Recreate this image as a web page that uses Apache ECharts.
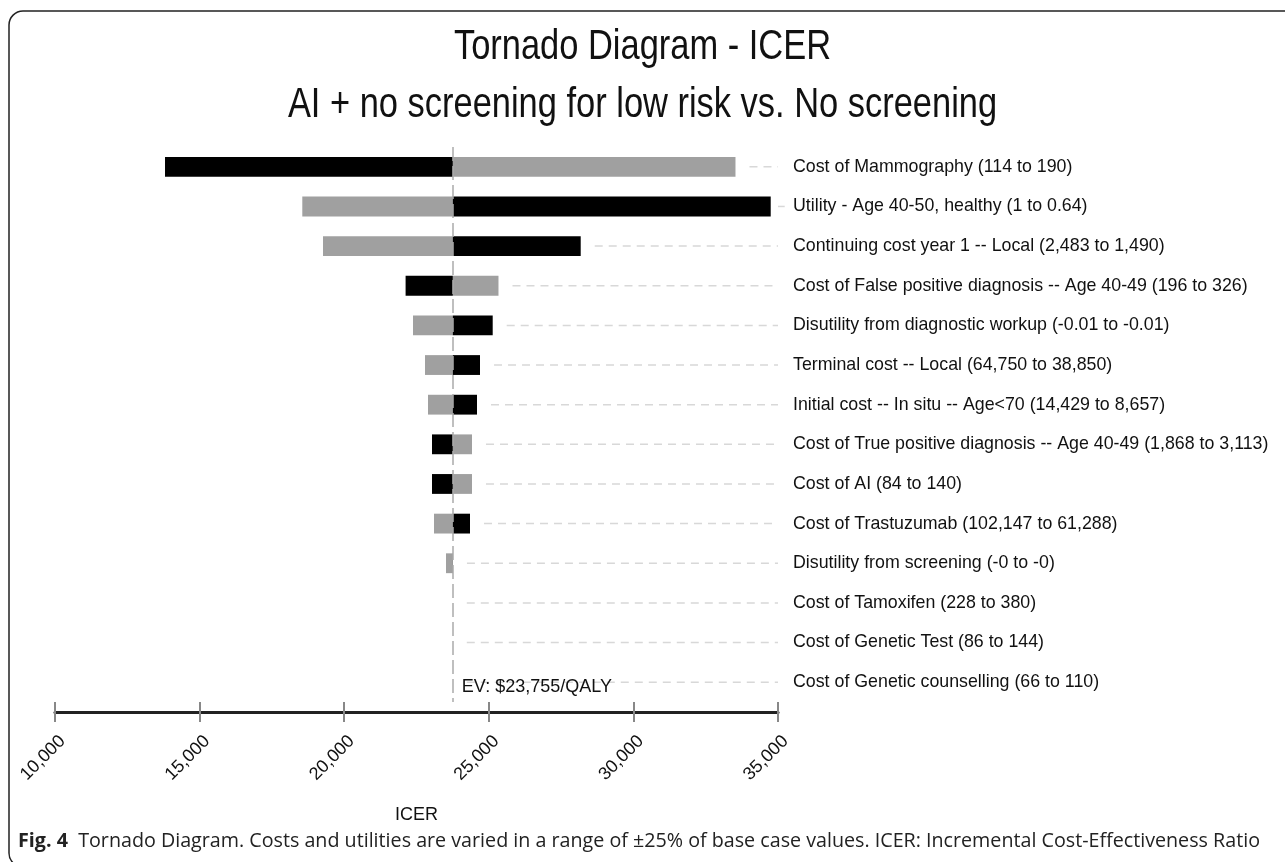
<!DOCTYPE html>
<html>
<head>
<meta charset="utf-8">
<title>Tornado Diagram - ICER</title>
<script src="https://cdn.jsdelivr.net/npm/echarts@6/dist/echarts.min.js"></script>
<style>
  html, body { margin: 0; padding: 0; background: #fff; }
  #chart { width: 1285px; height: 862px; }
</style>
</head>
<body>
<div id="chart"></div>
<script>
// rows, top to bottom
var categories = [
  'Cost of Mammography (114 to 190)',
  'Utility - Age 40-50, healthy (1 to 0.64)',
  'Continuing cost year 1 -- Local (2,483 to 1,490)',
  'Cost of False positive diagnosis -- Age 40-49 (196 to 326)',
  'Disutility from diagnostic workup (-0.01 to -0.01)',
  'Terminal cost -- Local (64,750 to 38,850)',
  'Initial cost -- In situ -- Age<70 (14,429 to 8,657)',
  'Cost of True positive diagnosis -- Age 40-49 (1,868 to 3,113)',
  'Cost of AI (84 to 140)',
  'Cost of Trastuzumab (102,147 to 61,288)',
  'Disutility from screening (-0 to -0)',
  'Cost of Tamoxifen (228 to 380)',
  'Cost of Genetic Test (86 to 144)',
  'Cost of Genetic counselling (66 to 110)'
];

var baseIcer = 23755;

// ICER at the low end of each input range (black bars)
var lowIcer = [13804, 34748, 28178, 22123, 25135, 24696, 24592, 23036, 23036, 24350, 23760, 23755, 23755, 23755];

// ICER at the high end of each input range (grey bars)
var highIcer = [33530, 18551, 19267, 25335, 22379, 22794, 22898, 24419, 24419, 23105, 23520, 23755, 23755, 23755];

var lowData = lowIcer.map(function (v, i) { return [i, baseIcer, v]; });
var highData = highIcer.map(function (v, i) { return [i, baseIcer, v]; });
var guideData = categories.map(function (c, i) {
  return [i, Math.max(baseIcer, lowIcer[i], highIcer[i])];
});

function barRenderer(color) {
  return function (params, api) {
    var row = api.value(0);
    var p0 = api.coord([api.value(1), row]);
    var p1 = api.coord([api.value(2), row]);
    var h = api.size([0, 1])[1] * 0.5;
    return {
      type: 'rect',
      shape: {
        x: Math.min(p0[0], p1[0]),
        y: p0[1] - h / 2,
        width: Math.abs(p1[0] - p0[0]),
        height: h
      },
      style: { fill: color }
    };
  };
}

function fmt(v) {
  return String(v).replace(/\B(?=(\d{3})+(?!\d))/g, ',');
}

var chartDom = document.getElementById('chart');
var myChart = echarts.init(chartDom);
var option;

option = {
  animation: false,
  grid: {
    left: 55,
    right: 507,
    top: 147,
    bottom: 160
  },
  xAxis: [
    {
      type: 'value',
      min: 10000,
      max: 35000,
      interval: 5000,
      offset: 10,
      name: 'ICER',
      nameLocation: 'middle',
      nameGap: 94,
      nameTextStyle: { fontFamily: 'Liberation Sans', fontSize: 18, color: '#111' },
      splitLine: { show: false },
      axisLine: { show: true, lineStyle: { color: '#222', width: 3 } },
      axisTick: { show: true, length: 10, lineStyle: { color: '#888', width: 2 } },
      axisLabel: {
        rotate: 45,
        margin: 58,
        align: 'center',
        verticalAlign: 'bottom',
        fontFamily: 'Liberation Sans',
        fontSize: 18,
        color: '#111',
        padding: [0, 0, 8, 0],
        formatter: function (v) { return fmt(v); }
      }
    },
    {
      type: 'value',
      min: 10000,
      max: 35000,
      interval: 5000,
      offset: 10,
      position: 'bottom',
      splitLine: { show: false },
      axisLine: { show: false },
      axisTick: { show: true, inside: true, length: 10, lineStyle: { color: '#888', width: 2 } },
      axisLabel: { show: false }
    }
  ],
  yAxis: {
    type: 'category',
    data: categories,
    inverse: true,
    position: 'right',
    axisLine: { show: false },
    axisTick: { show: false },
    splitLine: { show: false },
    axisLabel: {
      margin: 15,
      fontFamily: 'Liberation Sans',
      fontSize: 17.8,
      color: '#111'
    }
  },
  graphic: [
    {
      type: 'rect',
      shape: { x: 9, y: 11, width: 1300, height: 856, r: 14 },
      style: { fill: 'none', stroke: '#222', lineWidth: 1.5 },
      silent: true
    },
    {
      type: 'text',
      x: 642.5,
      y: 26,
      scaleX: 0.82,
      silent: true,
      style: {
        text: 'Tornado Diagram - ICER',
        align: 'center',
        verticalAlign: 'top',
        fontFamily: 'Liberation Sans',
        fontSize: 42,
        fill: '#111'
      }
    },
    {
      type: 'text',
      x: 642.5,
      y: 84,
      scaleX: 0.82,
      silent: true,
      style: {
        text: 'AI + no screening for low risk vs. No screening',
        align: 'center',
        verticalAlign: 'top',
        fontFamily: 'Liberation Sans',
        fontSize: 42,
        fill: '#111'
      }
    },
    {
      type: 'text',
      left: 18,
      top: 831,
      silent: true,
      style: {
        text: '{b|Fig. 4}  Tornado Diagram. Costs and utilities are varied in a range of \u00b125% of base case values. ICER: Incremental Cost-Effectiveness Ratio',
        fontFamily: 'Open Sans',
        fontSize: 19.7,
        fill: '#222',
        rich: {
          b: { fontFamily: 'Open Sans', fontSize: 19.7, fontWeight: 'bold', fill: '#222' }
        }
      }
    }
  ],
  series: [
    {
      name: 'Guide',
      type: 'custom',
      silent: true,
      encode: { x: 1, y: 0 },
      data: guideData,
      renderItem: function (params, api) {
        var row = api.value(0);
        var p = api.coord([api.value(1), row]);
        var right = params.coordSys.x + params.coordSys.width;
        return {
          type: 'line',
          shape: { x1: p[0] + 14, y1: p[1], x2: right, y2: p[1] },
          style: { stroke: '#d8d8d8', lineWidth: 1.5, lineDash: [8, 6] }
        };
      }
    },
    {
      name: 'High',
      type: 'custom',
      silent: true,
      encode: { x: [1, 2], y: 0 },
      data: highData,
      renderItem: barRenderer('#a0a0a0')
    },
    {
      name: 'Low',
      type: 'custom',
      silent: true,
      encode: { x: [1, 2], y: 0 },
      data: lowData,
      renderItem: barRenderer('#000'),
      markLine: {
        silent: true,
        symbol: ['none', 'none'],
        label: { show: false },
        lineStyle: { color: '#aaa', width: 1.5, type: [14, 5] },
        data: [{ xAxis: baseIcer }]
      }
    },
    {
      name: 'EV',
      type: 'custom',
      silent: true,
      data: [[baseIcer, categories.length - 1]],
      renderItem: function (params, api) {
        var p = api.coord([api.value(0), api.value(1)]);
        return {
          type: 'text',
          x: p[0] + 9,
          y: p[1] + 5,
          style: {
            text: 'EV: $' + fmt(baseIcer) + '/QALY',
            fontFamily: 'Liberation Sans',
            fontSize: 18,
            fill: '#111',
            verticalAlign: 'middle'
          }
        };
      }
    }
  ]
};

option && myChart.setOption(option);
</script>
</body>
</html>
